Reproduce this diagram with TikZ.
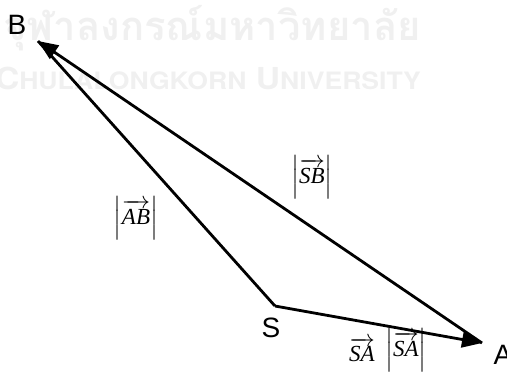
\documentclass[tikz,border=0pt]{standalone}
\usepackage{fontspec}
\setmainfont{Liberation Sans}
\newfontfamily\serif{Liberation Serif}
\newfontfamily\thaifont[Script=Thai]{Loma}
\newfontfamily\markfont{TeX Gyre Heros}
\usepackage{amsmath}
\usetikzlibrary{arrows.meta, positioning}
\definecolor{markGray}{RGB}{240, 240, 240}
\newcommand{\vect}[1]{\overrightarrow{\text{\serif\itshape #1}}}

\begin{document}
\begin{tikzpicture}[
    x=0.5pt, y=-0.5pt,
    vec/.style={-{Triangle[length=10pt, width=8pt]}, line width=1.4pt, black},
    seg/.style={line width=1.4pt, black},
    pt/.style={font=\fontsize{14}{16}\selectfont, inner sep=0pt},
    mag/.style={font=\fontsize{11.5}{14}\selectfont, inner sep=0pt},
    watermark/.style={text=markGray, inner sep=0pt},
  ]
    \useasboundingbox (0,0) rectangle (507,372);

    % Watermark
    \node[watermark, font=\thaifont\bfseries\fontsize{20}{24}\selectfont] (wmth) at (212,28) {จุฬาลงกรณ์มหาวิทยาลัย};
    \node[watermark, font=\markfont\bfseries\fontsize{16.8}{20}\selectfont, yscale=0.9] (wmen) at (208,78)
      {C{\fontsize{13.3}{16}\selectfont HULALONGKORN} U{\fontsize{13.3}{16}\selectfont NIVERSITY}};

    % Points
    \coordinate (S) at (275,306);
    \coordinate (A) at (482,343);
    \coordinate (B) at (38,41);
    \node[pt] (lblS) at (271,328) {S};
    \node[pt] (lblA) at (503,355) {A};
    \node[pt] (lblB) at (17,25) {B};

    % Vectors
    \draw[seg] (S) -- (B);
    \draw[vec] (S) -- (A);
    \draw[vec] (A) -- (B);

    % Magnitudes
    \node[mag] (magAB) at (136,218) {$\left|\vect{AB}\right|$};
    \node[mag] (magSB) at (312,177) {$\left|\vect{SB}\right|$};
    \node[mag] (vecSA) at (362,350) {$\vect{SA}$};
    \node[mag] (magSA) at (406,350) {$\left|\vect{SA}\right|$};
  \end{tikzpicture}
\end{document}
